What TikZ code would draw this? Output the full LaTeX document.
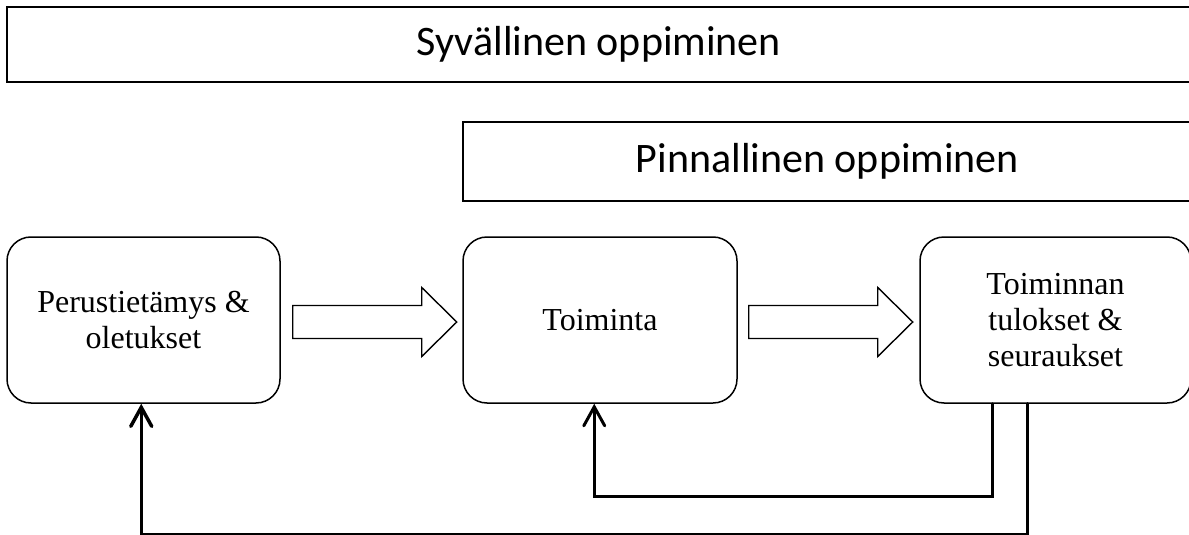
\documentclass[tikz,border=0pt]{standalone}
\usepackage{fontspec}
\setmainfont{Liberation Serif}
\newfontfamily\bannerfont{Carlito}
\usetikzlibrary{arrows.meta}

\tikzset{
  banner/.style={draw, line width=1.8pt, rectangle, inner sep=0pt,
    font=\bannerfont\fontsize{42}{50}\selectfont},
  stagebox/.style={draw, line width=1.5pt, rectangle, rounded corners=24pt,
    inner sep=0pt, align=center,
    font=\fontsize{32}{36}\selectfont},
  loopline/.style={line width=3.5pt, line cap=round, line join=miter,
    -{Straight Barb[length=19pt,width=21pt,line cap=round]}},
  fatarrow/.pic={
    \draw[line width=1.4pt, line join=miter, fill=white]
      (0,-16.5) -- (129,-16.5) -- (129,-34.5) -- (164,0)
      -- (129,34.5) -- (129,16.5) -- (0,16.5) -- cycle;
  }
}

\begin{document}
\begin{tikzpicture}[x=1pt, y=-1pt]
\useasboundingbox (0,0) rectangle (1189,535);

% framing bands for the two learning modes
\node[banner, minimum width=1184pt, minimum height=75pt] (deep) at (599,44.5)
  {Syvällinen oppiminen};
\node[banner, minimum width=729pt, minimum height=79pt] (surface) at (827.5,161.5)
  {Pinnallinen oppiminen};

% the three stages
\node[stagebox, minimum width=273pt, minimum height=166pt] (base) at (143.5,320)
  {Perustietämys \&\\oletukset};
\node[stagebox, minimum width=274pt, minimum height=166pt] (action) at (600,320)
  {Toiminta};
\node[stagebox, minimum width=271pt, minimum height=166pt] (result) at (1055.5,320)
  {Toiminnan\\tulokset \&\\seuraukset};

% forward block arrows
\pic at ([xshift=12pt,yshift=-2pt]base.east) {fatarrow};
\pic at ([xshift=11pt,yshift=-2pt]action.east) {fatarrow};

% feedback loops
\draw[loopline, line width=3pt] ([xshift=73pt]result.south west) -- ++(0,93)
  -| ([xshift=132pt]action.south west);
\draw[loopline] ([xshift=108pt]result.south west) -- ++(0,131)
  -| ([xshift=135pt]base.south west);
\end{tikzpicture}
\end{document}
